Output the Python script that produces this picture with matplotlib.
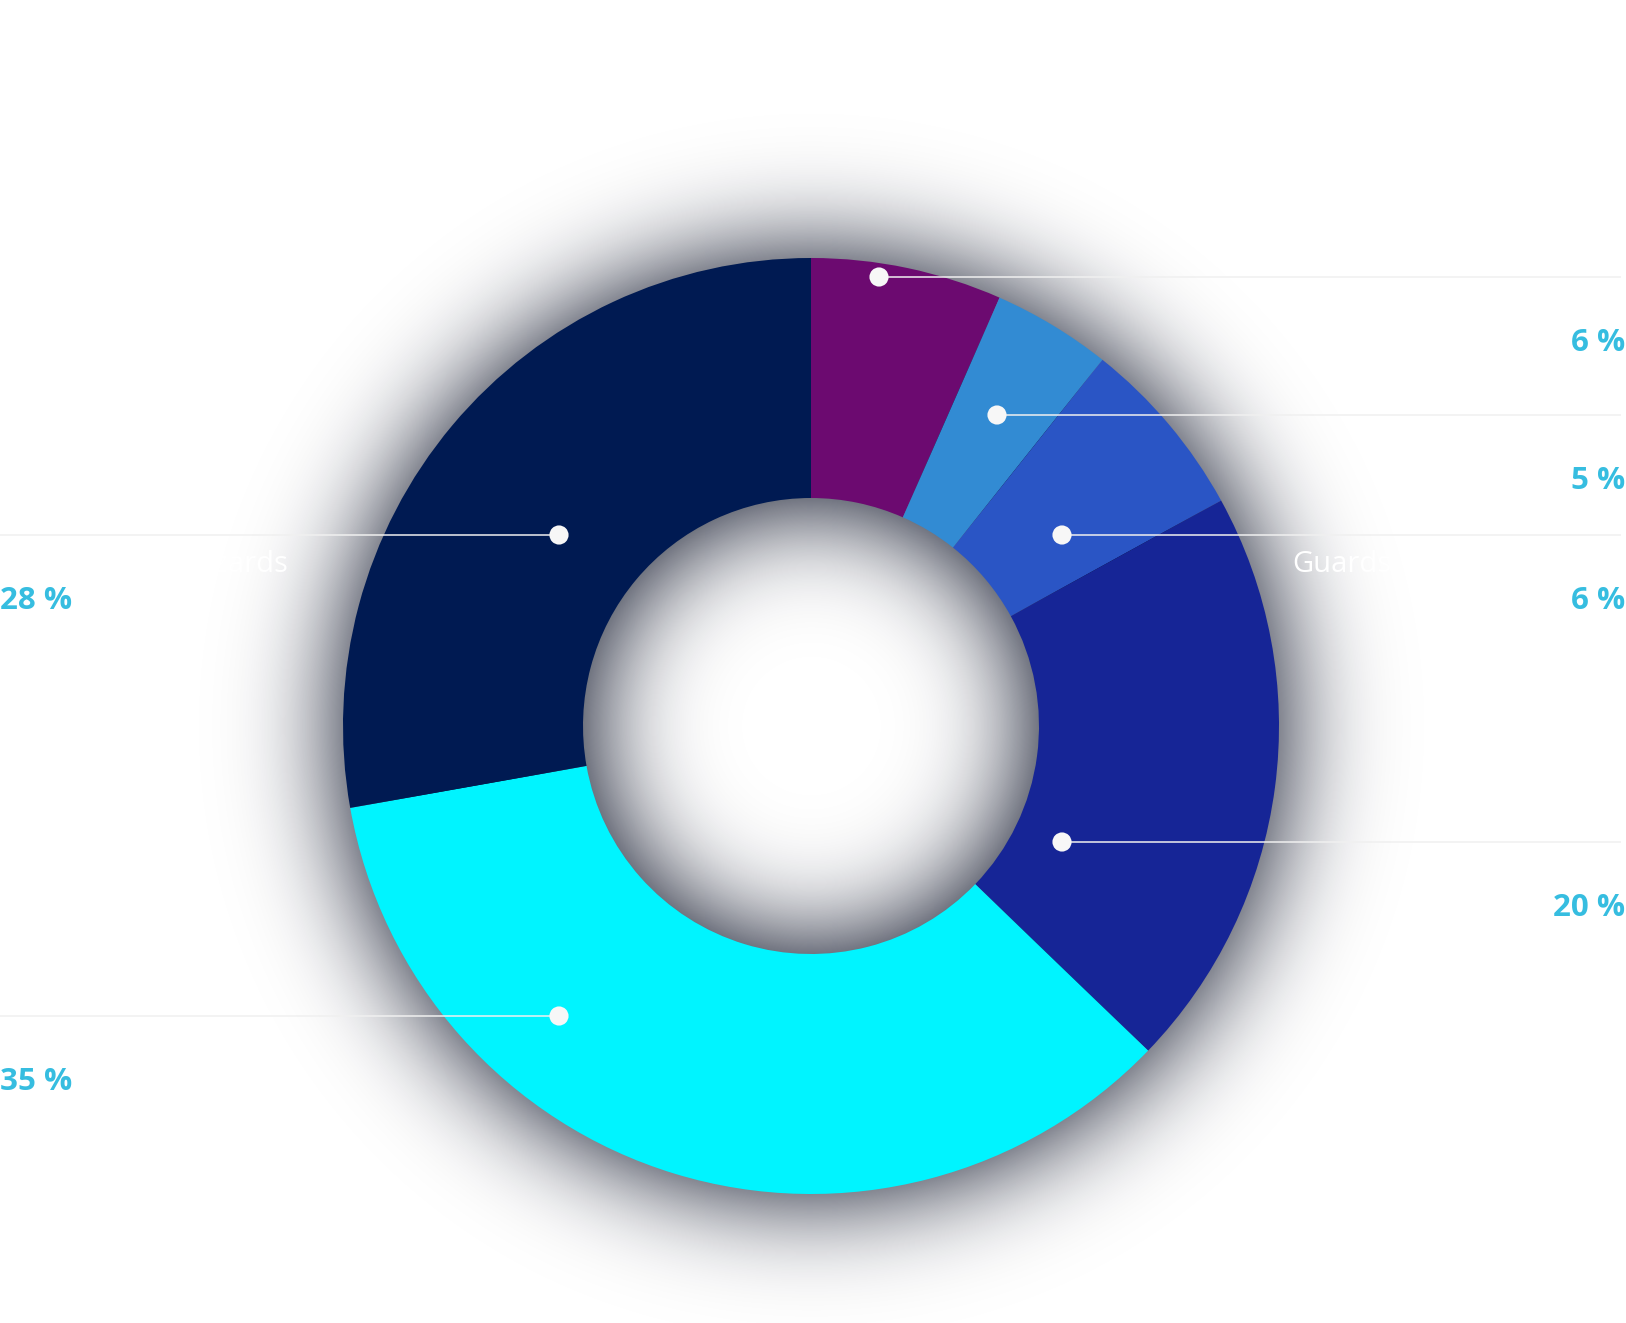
import numpy as np
import matplotlib
matplotlib.use("Agg")
import matplotlib.pyplot as plt

# slice data, clockwise from 12 o'clock
values = [6.6, 4.1, 6.3, 20.2, 35.0, 27.8]
pct_labels = ["6 %", "5 %", "6 %", "20 %", "35 %", "28 %"]
names = ["", "", "Guards", "", "", "Wizards"]
colors = ["#6c0a70", "#328bd3", "#2a55c5", "#162596", "#00f4ff", "#001a52"]

# layout (pixels)
W, H = 1626, 1323
CX, CY = 811, 726
R_OUT, R_IN = 468, 228
dot_offsets = [(68, -449), (186, -311), (251, -191), (251, 116), (-252, 290), (-252, -191)]
sides = ["right", "right", "right", "right", "left", "left"]

fig = plt.figure(figsize=(W / 100, H / 100), dpi=100)
ax = fig.add_axes([0, 0, 1, 1])

# soft drop shadow around the ring (gaussian-blurred ring mask), padded so it doesn't wrap
PAD = 400
HP, WP = H + PAD, W + PAD
yy, xx = np.mgrid[0:HP, 0:WP]
rr = np.hypot(xx - CX + 0.5, yy - CY + 0.5)
mask = ((rr <= R_OUT) & (rr >= R_IN)).astype(float)
sigma = 55
fy = np.fft.fftfreq(HP)[:, None]
fx = np.fft.rfftfreq(WP)[None, :]
kern = np.exp(-2 * np.pi ** 2 * sigma ** 2 * (fx ** 2 + fy ** 2))
blur = np.fft.irfft2(np.fft.rfft2(mask) * kern, s=(HP, WP))[:H, :W]
alpha = np.clip(1.05 * blur, 0, 1)
shadow = np.zeros((H, W, 4))
shadow[..., 0] = 8 / 255
shadow[..., 1] = 14 / 255
shadow[..., 2] = 35 / 255
shadow[..., 3] = alpha
ax.imshow(shadow, extent=(0, W, H, 0), origin="upper", zorder=0, interpolation="bilinear")

# y axis is inverted (pixel coords), so counterclock=True draws clockwise on screen
ax.pie(values, colors=colors, radius=R_OUT, center=(CX, CY), startangle=-90, counterclock=True,
       wedgeprops=dict(width=R_OUT - R_IN, linewidth=0), frame=True)

for (dx, dy), side, pct, name in zip(dot_offsets, sides, pct_labels, names):
    px, py = CX + dx, CY + dy
    if side == "right":
        ax.plot([px, W - 5], [py, py], color="#f0f0f0", lw=1.1, zorder=3, solid_capstyle="butt")
        ax.text(W - 1, py + 66, pct, ha="right", va="center", fontsize=22.5, fontweight="bold",
                color="#36bde0", family="Open Sans", zorder=4)
        if name:
            ax.text(1292, py + 30, name, ha="left", va="center", fontsize=21, color="white",
                    family="Open Sans", zorder=4)
    else:
        ax.plot([0, px], [py, py], color="#f0f0f0", lw=1.1, zorder=3, solid_capstyle="butt")
        ax.text(0, py + 66, pct, ha="left", va="center", fontsize=22.5, fontweight="bold",
                color="#36bde0", family="Open Sans", zorder=4)
        if name:
            ax.text(288, py + 30, name, ha="right", va="center", fontsize=21, color="white",
                    family="Open Sans", zorder=4)
    ax.scatter([px], [py], s=190, color="#f7f7f7", edgecolors="none", zorder=5)

ax.set_xlim(0, W)
ax.set_ylim(H, 0)
ax.set_aspect("equal")
ax.axis("off")
fig.savefig("out.png", dpi=100, facecolor="white")
